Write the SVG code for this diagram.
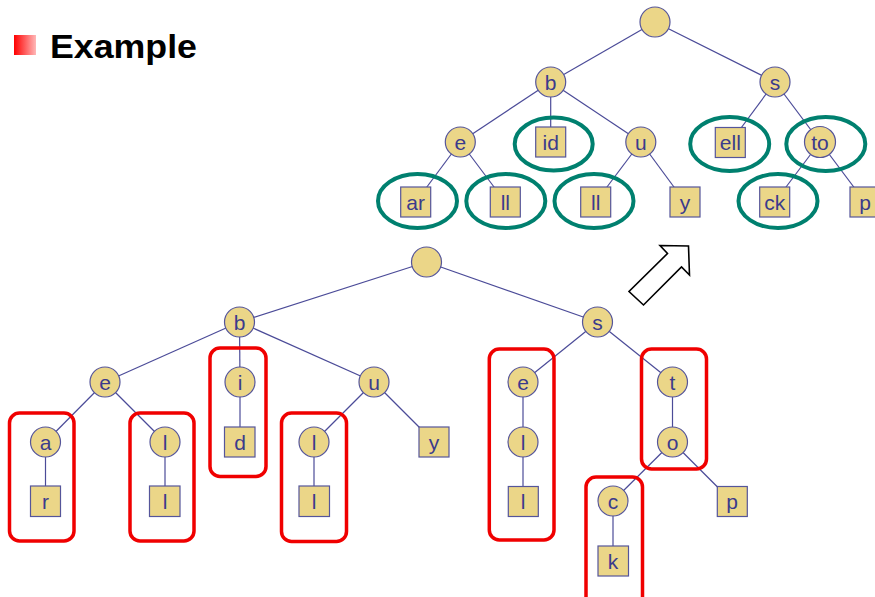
<svg xmlns="http://www.w3.org/2000/svg" width="875" height="597" viewBox="0 0 875 597">
  <defs>
    <linearGradient id="bulletGrad" x1="0" y1="0" x2="1" y2="0">
      <stop offset="0" stop-color="#ff0000"/>
      <stop offset="1" stop-color="#ffb8b8"/>
    </linearGradient>
  </defs>
  <style>
    .edge { stroke: #4b4b98; stroke-width: 1.2; fill: none; }
    .node circle, .node rect.sq { fill: #ebd688; stroke: #55559a; stroke-width: 1.2; }
    .node text { font-family: "Liberation Sans", Arial, sans-serif; font-size: 21px; fill: #3b3b8c; text-anchor: middle; dominant-baseline: central; }
    .group-red { fill: none; stroke: #f00000; stroke-width: 3.5; }
    .group-teal { fill: none; stroke: #00806f; stroke-width: 4; }
    .title { font-family: "Liberation Sans", Arial, sans-serif; font-weight: bold; font-size: 33px; fill: #000; }
  </style>

  <rect width="875" height="597" fill="#ffffff"/>

  <!-- title -->
  <rect x="14" y="35" width="22" height="20" fill="url(#bulletGrad)"/>
  <text class="title" x="50" y="58" textLength="147" lengthAdjust="spacingAndGlyphs">Example</text>

  <!-- compressed trie (top) : connectors -->
  <g id="connectors-top">
    <line class="edge" x1="655" y1="22" x2="550.7" y2="82"/>
    <line class="edge" x1="655" y1="22" x2="775" y2="82"/>
    <line class="edge" x1="550.7" y1="82" x2="460.3" y2="142"/>
    <line class="edge" x1="550.7" y1="82" x2="550.7" y2="142"/>
    <line class="edge" x1="550.7" y1="82" x2="640.8" y2="142"/>
    <line class="edge" x1="460.3" y1="142" x2="415.7" y2="202"/>
    <line class="edge" x1="460.3" y1="142" x2="505.3" y2="202"/>
    <line class="edge" x1="640.8" y1="142" x2="595.7" y2="202"/>
    <line class="edge" x1="640.8" y1="142" x2="685" y2="202"/>
    <line class="edge" x1="775" y1="82" x2="730.3" y2="142.5"/>
    <line class="edge" x1="775" y1="82" x2="820" y2="142"/>
    <line class="edge" x1="820" y1="142" x2="774.7" y2="202"/>
    <line class="edge" x1="820" y1="142" x2="865" y2="202"/>
  </g>

  <!-- standard trie (bottom) : connectors -->
  <g id="connectors-bottom">
    <line class="edge" x1="426.5" y1="262" x2="239.5" y2="322"/>
    <line class="edge" x1="426.5" y1="262" x2="597.5" y2="322"/>
    <line class="edge" x1="239.5" y1="322" x2="105" y2="382"/>
    <line class="edge" x1="239.5" y1="322" x2="240" y2="382"/>
    <line class="edge" x1="239.5" y1="322" x2="374" y2="382"/>
    <line class="edge" x1="105" y1="382" x2="45.5" y2="442"/>
    <line class="edge" x1="105" y1="382" x2="165" y2="442"/>
    <line class="edge" x1="45.5" y1="442" x2="45.5" y2="501"/>
    <line class="edge" x1="165" y1="442" x2="165" y2="501"/>
    <line class="edge" x1="240" y1="382" x2="240" y2="442"/>
    <line class="edge" x1="374" y1="382" x2="314" y2="442"/>
    <line class="edge" x1="374" y1="382" x2="434" y2="442"/>
    <line class="edge" x1="314" y1="442" x2="314" y2="501"/>
    <line class="edge" x1="597.5" y1="322" x2="523" y2="382"/>
    <line class="edge" x1="597.5" y1="322" x2="672.5" y2="382"/>
    <line class="edge" x1="523" y1="382" x2="523" y2="442"/>
    <line class="edge" x1="523" y1="442" x2="523" y2="501.5"/>
    <line class="edge" x1="672.5" y1="382" x2="672.5" y2="442"/>
    <line class="edge" x1="672.5" y1="442" x2="613" y2="501"/>
    <line class="edge" x1="672.5" y1="442" x2="732" y2="501.5"/>
    <line class="edge" x1="613" y1="501" x2="613" y2="561"/>
  </g>

  <!-- compressed trie nodes -->
  <g id="t-root" class="node"><circle cx="655" cy="22" r="15"/></g>
  <g id="t-b" class="node"><circle cx="550.7" cy="82" r="15"/><text x="550.7" y="82">b</text></g>
  <g id="t-s" class="node"><circle cx="775" cy="82" r="15"/><text x="775" y="82">s</text></g>
  <g id="t-e" class="node"><circle cx="460.3" cy="142" r="15"/><text x="460.3" y="142">e</text></g>
  <g id="t-id" class="node"><rect class="sq" x="535.7" y="127" width="30" height="30"/><text x="550.7" y="142">id</text></g>
  <g id="t-u" class="node"><circle cx="640.8" cy="142" r="15"/><text x="640.8" y="142">u</text></g>
  <g id="t-ar" class="node"><rect class="sq" x="400.7" y="187" width="30" height="30"/><text x="415.7" y="202">ar</text></g>
  <g id="t-ll1" class="node"><rect class="sq" x="490.3" y="187" width="30" height="30"/><text x="505.3" y="202">ll</text></g>
  <g id="t-ll2" class="node"><rect class="sq" x="580.7" y="187" width="30" height="30"/><text x="595.7" y="202">ll</text></g>
  <g id="t-y" class="node"><rect class="sq" x="670" y="187" width="30" height="30"/><text x="685" y="202">y</text></g>
  <g id="t-ell" class="node"><rect class="sq" x="715.3" y="127.5" width="30" height="30"/><text x="730.3" y="142.5">ell</text></g>
  <g id="t-to" class="node"><circle cx="820" cy="142" r="15.5"/><text x="820" y="142">to</text></g>
  <g id="t-ck" class="node"><rect class="sq" x="759.7" y="187" width="30" height="30"/><text x="774.7" y="202">ck</text></g>
  <g id="t-p" class="node"><rect class="sq" x="850" y="187" width="30" height="30"/><text x="865" y="202">p</text></g>

  <!-- merged chains in the compressed trie -->
  <g id="teal-marks">
    <ellipse class="group-teal" cx="553.7" cy="144" rx="39" ry="26.5"/>
    <ellipse class="group-teal" cx="417.5" cy="201" rx="39.5" ry="27"/>
    <ellipse class="group-teal" cx="505.8" cy="201" rx="39.5" ry="27"/>
    <ellipse class="group-teal" cx="594" cy="201" rx="39.5" ry="27"/>
    <ellipse class="group-teal" cx="729.7" cy="144" rx="39.5" ry="27"/>
    <ellipse class="group-teal" cx="825.8" cy="144" rx="39.5" ry="27"/>
    <ellipse class="group-teal" cx="778" cy="201" rx="39.5" ry="27"/>
  </g>

  <!-- hollow arrow -->
  <polygon points="660,245.5 688.5,246 689.5,275 681.5,267 643.5,305 629,291.5 667.5,253.5" fill="#ffffff" stroke="#000000" stroke-width="1.6" stroke-linejoin="miter"/>

  <!-- standard trie nodes -->
  <g id="b-root" class="node"><circle cx="426.5" cy="262" r="15"/></g>
  <g id="b-b" class="node"><circle cx="239.5" cy="322" r="15"/><text x="239.5" y="322">b</text></g>
  <g id="b-s" class="node"><circle cx="597.5" cy="322" r="15"/><text x="597.5" y="322">s</text></g>
  <g id="b-e" class="node"><circle cx="105" cy="382" r="15"/><text x="105" y="382">e</text></g>
  <g id="b-i" class="node"><circle cx="240" cy="382" r="15"/><text x="240" y="382">i</text></g>
  <g id="b-u" class="node"><circle cx="374" cy="382" r="15"/><text x="374" y="382">u</text></g>
  <g id="b-a" class="node"><circle cx="45.5" cy="442" r="15"/><text x="45.5" y="442">a</text></g>
  <g id="b-l1" class="node"><circle cx="165" cy="442" r="15"/><text x="165" y="442">l</text></g>
  <g id="b-d" class="node"><rect class="sq" x="224.5" y="427" width="30.5" height="30"/><text x="240" y="442">d</text></g>
  <g id="b-l2" class="node"><circle cx="314" cy="442" r="15"/><text x="314" y="442">l</text></g>
  <g id="b-y" class="node"><rect class="sq" x="419" y="427" width="30" height="30"/><text x="434" y="442">y</text></g>
  <g id="b-r" class="node"><rect class="sq" x="30.5" y="486" width="30" height="30.5"/><text x="45.5" y="501">r</text></g>
  <g id="b-l1s" class="node"><rect class="sq" x="149.5" y="486" width="30.5" height="30.5"/><text x="165" y="501">l</text></g>
  <g id="b-l2s" class="node"><rect class="sq" x="299" y="486" width="30.5" height="30.5"/><text x="314" y="501">l</text></g>
  <g id="b-e2" class="node"><circle cx="523" cy="382" r="15"/><text x="523" y="382">e</text></g>
  <g id="b-l3" class="node"><circle cx="523" cy="442" r="15"/><text x="523" y="442">l</text></g>
  <g id="b-l3s" class="node"><rect class="sq" x="508.3" y="486.5" width="30" height="30"/><text x="523" y="501.5">l</text></g>
  <g id="b-t" class="node"><circle cx="672.5" cy="382" r="15"/><text x="672.5" y="382">t</text></g>
  <g id="b-o" class="node"><circle cx="672.5" cy="442" r="15"/><text x="672.5" y="442">o</text></g>
  <g id="b-c" class="node"><circle cx="613" cy="501" r="15"/><text x="613" y="501">c</text></g>
  <g id="b-k" class="node"><rect class="sq" x="598" y="546" width="30.5" height="30"/><text x="613" y="561">k</text></g>
  <g id="b-p" class="node"><rect class="sq" x="717.3" y="486.5" width="30" height="30"/><text x="732" y="501.5">p</text></g>

  <!-- single-child chains in the standard trie -->
  <g id="red-marks">
    <rect class="group-red" x="9.5" y="413" width="64.5" height="128" rx="10"/>
    <rect class="group-red" x="130" y="413" width="64" height="128" rx="10"/>
    <rect class="group-red" x="210" y="348" width="56" height="128.5" rx="10"/>
    <rect class="group-red" x="281.5" y="413" width="65" height="128.5" rx="10"/>
    <rect class="group-red" x="489.3" y="349" width="64.7" height="191" rx="10"/>
    <rect class="group-red" x="641.5" y="349" width="65" height="120" rx="10"/>
    <rect class="group-red" x="586" y="477" width="56.5" height="130" rx="10"/>
  </g>
</svg>
